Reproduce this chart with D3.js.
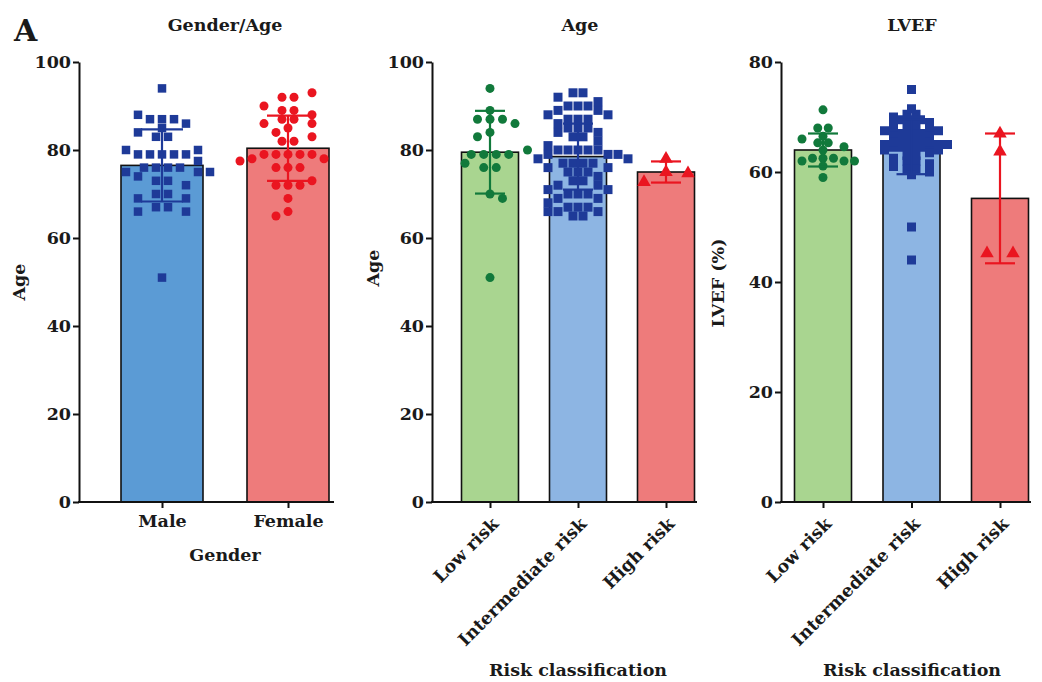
<!DOCTYPE html>
<html><head><meta charset="utf-8">
<script src="https://cdn.jsdelivr.net/npm/d3@7"></script>
<style>
html,body{margin:0;padding:0;background:#fff;}
svg{display:block;}
text{font-family:"DejaVu Serif",serif;font-weight:bold;fill:#1a1a1a;}
</style></head>
<body>
<svg id="chart" width="1042" height="682"></svg>
<script>
// ---------- data ----------
const genderCats = ["Male", "Female"];
const genderMeans = [76.5, 80.4];
const genderSD = [8.2, 7.4];
const maleAges = [94, 88, 87, 87, 87, 86, 85, 84, 83, 83, 80, 80, 79, 79, 79, 79, 79, 77.5, 76, 76, 76, 76, 75, 75, 75, 74, 73, 73, 72, 70, 70, 69, 69, 67, 67, 66, 66, 51];
const femaleAges = [93, 92, 92, 90, 89, 89, 88, 87, 87, 86, 86, 85, 84, 83, 82, 82, 79, 79, 79, 79, 79, 78, 78, 77.5, 76, 76, 76, 73, 72, 72, 72, 69, 66, 65];

const riskCats = ["Low risk", "Intermediate risk", "High risk"];
const ageRiskMeans = [79.5, 78.5, 75.0];
const ageRiskSD = [9.4, 7.5, 2.4];
const lowAge = [94, 89, 87, 87, 87, 86, 84, 83, 80, 79, 79, 79, 79, 77, 76, 76, 70, 69, 51];
const interAge = [93, 93, 92, 91, 90, 90, 90, 89, 89, 88, 88, 87, 87, 87, 86, 85, 85, 85, 84, 84, 83, 83, 82, 81, 80, 80, 80, 80, 80, 79, 79, 79, 78, 78, 77, 77, 77, 77, 76, 76, 75, 75, 75, 74, 73, 73, 72, 72, 71, 71, 70, 70, 70, 69, 69, 68, 67, 67, 67, 66, 66, 66, 65, 65];
const highAge = [78, 75, 74.7, 72.7];

const lvefMeans = [64.0, 64.6, 55.2];
const lvefSD = [3.0, 5.0, 11.8];
const lowLVEF = [71.3, 68, 68, 66.5, 66, 65.3, 65.3, 64.6, 64, 62.5, 62.5, 62.5, 62, 62, 62, 61.1, 59];
const interLVEF = [75, 71.5, 70.5, 70.5, 70, 69.5, 69.5, 69.5, 69, 69, 68.5, 68.5, 68, 68, 67.5, 67.5, 67, 67, 67, 66.5, 66.5, 66, 66, 66, 65.5, 65.5, 65, 65, 65, 64.5, 64.5, 64.5, 64.5, 64.5, 64, 64, 63.5, 63, 63, 62.5, 62, 62, 61.5, 61, 60.5, 60.5, 60, 59.5, 50, 44];
const highLVEF = [67, 63.7, 45.2, 45.2];

const ageTicks = [0, 20, 40, 60, 80, 100];
const lvefTicks = [0, 20, 40, 60, 80];

// ---------- styles ----------
const C = {
  maleBar: "#5b9bd5", femaleBar: "#ee7b7b",
  navy: "#1e3a98", red: "#ea1520", green: "#11793b",
  greenBar: "#a9d590", blueBar: "#8db5e3", redBar: "#ee7b7b"
};
const FS = 17.5;

const svg = d3.select("#chart");
const Y0 = 502, Y1 = 62;

function symbolPath(shape, size) {
  if (shape === "square") return d3.symbol(d3.symbolSquare, size * size)();
  if (shape === "circle") return d3.symbol(d3.symbolCircle, Math.PI * size * size / 4)();
  return d3.symbol(d3.symbolTriangle, size * size * 0.55)();
}

// beeswarm: rows of equal values centred first (largest rows first), rest placed alternately
function swarm(vals, y, step, ysep) {
  const groups = d3.groups(vals, v => v)
    .sort((a, b) => (b[1].length - a[1].length) || (b[0] - a[0]));
  const placed = [];
  const free = (cx, py) => !placed.some(q => Math.abs(q.x - cx) < step - 0.5 && Math.abs(q.y - py) < ysep);
  let side = 1;
  groups.forEach(([v, arr]) => {
    const n = arr.length, py = y(v);
    const xs = d3.range(n).map(j => (j - (n - 1) / 2) * step);
    if (xs.every(cx => free(cx, py))) {
      xs.forEach(cx => placed.push({ v, y: py, x: cx }));
      return;
    }
    arr.forEach(() => {
      for (let m = 0; m < 40; m++) {
        const cands = m === 0 ? [0] : [side * m * step, -side * m * step];
        const cx = cands.find(c => free(c, py));
        if (cx !== undefined) {
          placed.push({ v, y: py, x: cx });
          if (cx !== 0) side = cx > 0 ? -1 : 1;
          break;
        }
      }
    });
  });
  return placed;
}

function styleText(sel) {
  return sel.attr("font-size", FS).attr("font-family", "DejaVu Serif").attr("font-weight", "bold").attr("fill", "#1a1a1a");
}

function panel(opt) {
  const g = svg.append("g");
  const y = d3.scaleLinear().domain(opt.domain).range([Y0, Y1]);
  const x = d3.scalePoint().domain(opt.cats).range(opt.centers);

  // bars
  opt.cats.forEach((c, i) => {
    g.append("rect")
      .attr("x", x(c) - opt.barW / 2).attr("width", opt.barW)
      .attr("y", y(opt.means[i])).attr("height", Y0 - y(opt.means[i]))
      .attr("fill", opt.barFill[i]).attr("stroke", "#111").attr("stroke-width", 1.6);
  });

  // points
  opt.cats.forEach((c, i) => {
    const pts = swarm(opt.points[i], y, opt.step[i], opt.ysep[i]);
    g.append("g").selectAll("path").data(pts).join("path")
      .attr("d", symbolPath(opt.shape[i], opt.psize[i]))
      .attr("transform", d => `translate(${x(c) + d.x},${d.y})`)
      .attr("fill", opt.pcol[i]);
  });

  // error bars
  opt.cats.forEach((c, i) => {
    const cx = x(c), hi = y(opt.means[i] + opt.sd[i]), lo = y(opt.means[i] - opt.sd[i]);
    const cw = opt.capW / 2;
    const eg = g.append("g").attr("stroke", opt.pcol[i]).attr("stroke-width", 2.2);
    eg.append("line").attr("x1", cx).attr("x2", cx).attr("y1", hi).attr("y2", lo);
    eg.append("line").attr("x1", cx - cw).attr("x2", cx + cw).attr("y1", hi).attr("y2", hi);
    eg.append("line").attr("x1", cx - cw).attr("x2", cx + cw).attr("y1", lo).attr("y2", lo);
  });

  // y axis
  const ya = g.append("g").attr("transform", `translate(${opt.axisX},0)`)
    .call(d3.axisLeft(y).tickValues(opt.ticks).tickSize(6).tickSizeOuter(0).tickPadding(2));
  ya.select(".domain").attr("stroke", "#111").attr("stroke-width", 2);
  ya.selectAll(".tick line").attr("stroke", "#111").attr("stroke-width", 2);
  styleText(ya.selectAll(".tick text"));

  // x axis
  g.append("line").attr("x1", opt.axisX - 1).attr("x2", opt.axisEnd).attr("y1", Y0).attr("y2", Y0)
    .attr("stroke", "#111").attr("stroke-width", 2);
  const xa = g.append("g").attr("transform", `translate(0,${Y0})`)
    .call(d3.axisBottom(x).tickSize(6).tickSizeOuter(0));
  xa.select(".domain").remove();
  xa.selectAll(".tick line").attr("stroke", "#111").attr("stroke-width", 2);
  const tt = styleText(xa.selectAll(".tick text"));
  if (opt.rotate) {
    tt.attr("text-anchor", "end").attr("dy", null).attr("y", 0)
      .attr("transform", "translate(9,23) rotate(-45)");
  } else {
    tt.attr("y", 13).attr("dy", "0.71em");
  }

  // titles
  styleText(g.append("text")).attr("x", opt.titleX).attr("y", 31).attr("text-anchor", "middle").text(opt.title);
  styleText(g.append("text")).attr("transform", `translate(${opt.ylabX},${opt.ylabY}) rotate(-90)`).attr("text-anchor", "middle").text(opt.ylab);
  styleText(g.append("text")).attr("x", opt.xlabX).attr("y", opt.xlabY).attr("text-anchor", "middle").text(opt.xlab);
}

panel({
  domain: [0, 100], ticks: ageTicks, cats: genderCats, centers: [162, 288], barW: 82,
  means: genderMeans, sd: genderSD, points: [maleAges, femaleAges],
  barFill: [C.maleBar, C.femaleBar], pcol: [C.navy, C.red], shape: ["square", "circle"],
  psize: [8.5, 9], step: [12, 12], ysep: [7, 7], capW: 42,
  axisX: 79, axisEnd: 334, rotate: false,
  title: "Gender/Age", titleX: 225, ylab: "Age", ylabX: 25, ylabY: 282, xlab: "Gender", xlabX: 225, xlabY: 561
});

panel({
  domain: [0, 100], ticks: ageTicks, cats: riskCats, centers: [490, 666], barW: 57,
  means: ageRiskMeans, sd: ageRiskSD, points: [lowAge, interAge, highAge],
  barFill: [C.greenBar, C.blueBar, C.redBar], pcol: [C.green, C.navy, C.red], shape: ["circle", "square", "triangle"],
  psize: [9, 9, 12], step: [12.5, 10, 22], ysep: [7, 4.5, 12], capW: 30,
  axisX: 432, axisEnd: 697, rotate: true,
  title: "Age", titleX: 580, ylab: "Age", ylabX: 379, ylabY: 268, xlab: "Risk classification", xlabX: 578, xlabY: 676
});

panel({
  domain: [0, 80], ticks: lvefTicks, cats: riskCats, centers: [823, 1000], barW: 57,
  means: lvefMeans, sd: lvefSD, points: [lowLVEF, interLVEF, highLVEF],
  barFill: [C.greenBar, C.blueBar, C.redBar], pcol: [C.green, C.navy, C.red], shape: ["circle", "square", "triangle"],
  psize: [9, 9, 12], step: [10.5, 9, 26], ysep: [6, 4, 10], capW: 30,
  axisX: 781, axisEnd: 1031, rotate: true,
  title: "LVEF", titleX: 912, ylab: "LVEF (%)", ylabX: 724, ylabY: 283, xlab: "Risk classification", xlabX: 912, xlabY: 676
});

// panel letter
svg.append("text").attr("x", 14).attr("y", 41).attr("font-size", 30).attr("font-weight", "bold").text("A");
</script>
</body></html>
